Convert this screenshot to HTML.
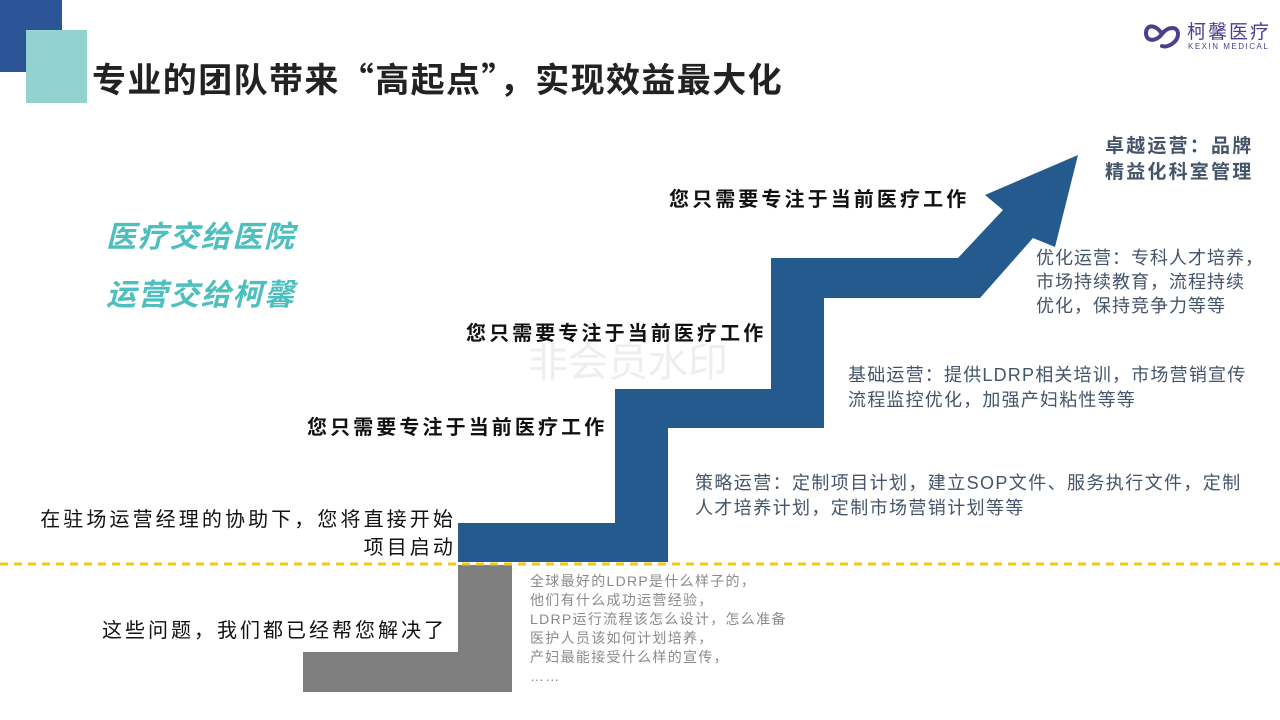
<!DOCTYPE html>
<html><head><meta charset="utf-8">
<style>
html,body{margin:0;padding:0;background:#fff;}
body{width:1280px;height:720px;position:relative;overflow:hidden;font-family:"Liberation Sans","Noto Sans CJK SC",sans-serif;}
.a{position:absolute;white-space:nowrap;}
</style></head><body>
<div class="a" style="left:0;top:0;width:62px;height:72px;background:#2b5597;"></div>
<div class="a" style="left:26px;top:30px;width:61px;height:73px;background:#92d3cf;"></div>
<div class="a" style="left:92px;top:53px;font-family:'Noto Sans CJK SC',sans-serif;font-size:34px;font-weight:bold;color:#222;letter-spacing:1.4px;">专业的团队带来“高起点”，实现效益最大化</div>

<!-- logo -->
<svg class="a" style="left:1142px;top:18px" width="40" height="32" viewBox="0 0 40 32">
<path d="M20 16 C14 6,4 6,4 15 C4 24,14 24,20 16 C26 8,36 8,36 16 C36 24,26 30,20 28" fill="none" stroke="#4b3f8f" stroke-width="4" stroke-linecap="round"/>
</svg>
<div class="a" style="left:1187px;top:17px;font-size:19px;color:#4b3f8f;letter-spacing:2px;">柯馨医疗</div>
<div class="a" style="left:1188px;top:42px;font-size:8px;color:#4b3f8f;letter-spacing:1.5px;">KEXIN MEDICAL</div>

<div class="a" style="left:106px;top:212px;font-size:30px;font-weight:bold;font-style:italic;color:#4dbfbe;letter-spacing:1.6px;">医疗交给医院</div>
<div class="a" style="left:106px;top:270px;font-size:30px;font-weight:bold;font-style:italic;color:#4dbfbe;letter-spacing:1.6px;">运营交给柯馨</div>

<svg class="a" style="left:0;top:0" width="1280" height="720">
<polygon points="458,565 512,565 512,692 303,692 303,652 458,652" fill="#7f7f7f"/>
<polygon points="458,523 615,523 615,389 771,389 771,258 958,258 1003,210 985,195 1078,155 1055,247 1033,238 980,298 824,298 824,428 668,428 668,562 458,562" fill="#255a8f"/>
<line x1="0" y1="564" x2="1280" y2="564" stroke="#f5c518" stroke-width="3" stroke-dasharray="8 6"/>
</svg>

<div class="a" style="left:528px;top:330px;font-size:40px;color:#eee;">非会员水印</div>

<div class="a" style="left:669px;top:183px;font-size:20px;font-weight:bold;color:#111;letter-spacing:3.1px;">您只需要专注于当前医疗工作</div>
<div class="a" style="left:466px;top:317px;font-size:20px;font-weight:bold;color:#111;letter-spacing:3.1px;">您只需要专注于当前医疗工作</div>
<div class="a" style="left:307px;top:411px;font-size:20px;font-weight:bold;color:#111;letter-spacing:3.1px;">您只需要专注于当前医疗工作</div>

<div class="a" style="left:20px;top:506px;font-size:20px;color:#111;text-align:right;width:436px;line-height:28px;letter-spacing:3.1px;">在驻场运营经理的协助下，您将直接开始<br>项目启动</div>
<div class="a" style="left:102px;top:614px;font-size:20px;color:#111;letter-spacing:3px;">这些问题，我们都已经帮您解决了</div>

<div class="a" style="left:530px;top:572px;font-size:14px;color:#8a8a8a;line-height:19px;letter-spacing:1.3px;">全球最好的LDRP是什么样子的，<br>他们有什么成功运营经验，<br>LDRP运行流程该怎么设计，怎么准备<br>医护人员该如何计划培养，<br>产妇最能接受什么样的宣传，<br>……</div>

<div class="a" style="left:695px;top:471px;font-size:18px;color:#44546a;line-height:25px;letter-spacing:1.4px;">策略运营：定制项目计划，建立SOP文件、服务执行文件，定制<br>人才培养计划，定制市场营销计划等等</div>
<div class="a" style="left:848px;top:363px;font-size:18px;color:#44546a;line-height:25px;letter-spacing:1.2px;">基础运营：提供LDRP相关培训，市场营销宣传<br>流程监控优化，加强产妇粘性等等</div>
<div class="a" style="left:1036px;top:246px;font-size:18px;color:#44546a;line-height:24px;letter-spacing:1px;">优化运营：专科人才培养，<br>市场持续教育，流程持续<br>优化，保持竞争力等等</div>
<div class="a" style="left:1105px;top:134px;font-size:19px;font-weight:bold;color:#44546a;line-height:26px;letter-spacing:2.2px;">卓越运营：品牌<br>精益化科室管理</div>
</body></html>
